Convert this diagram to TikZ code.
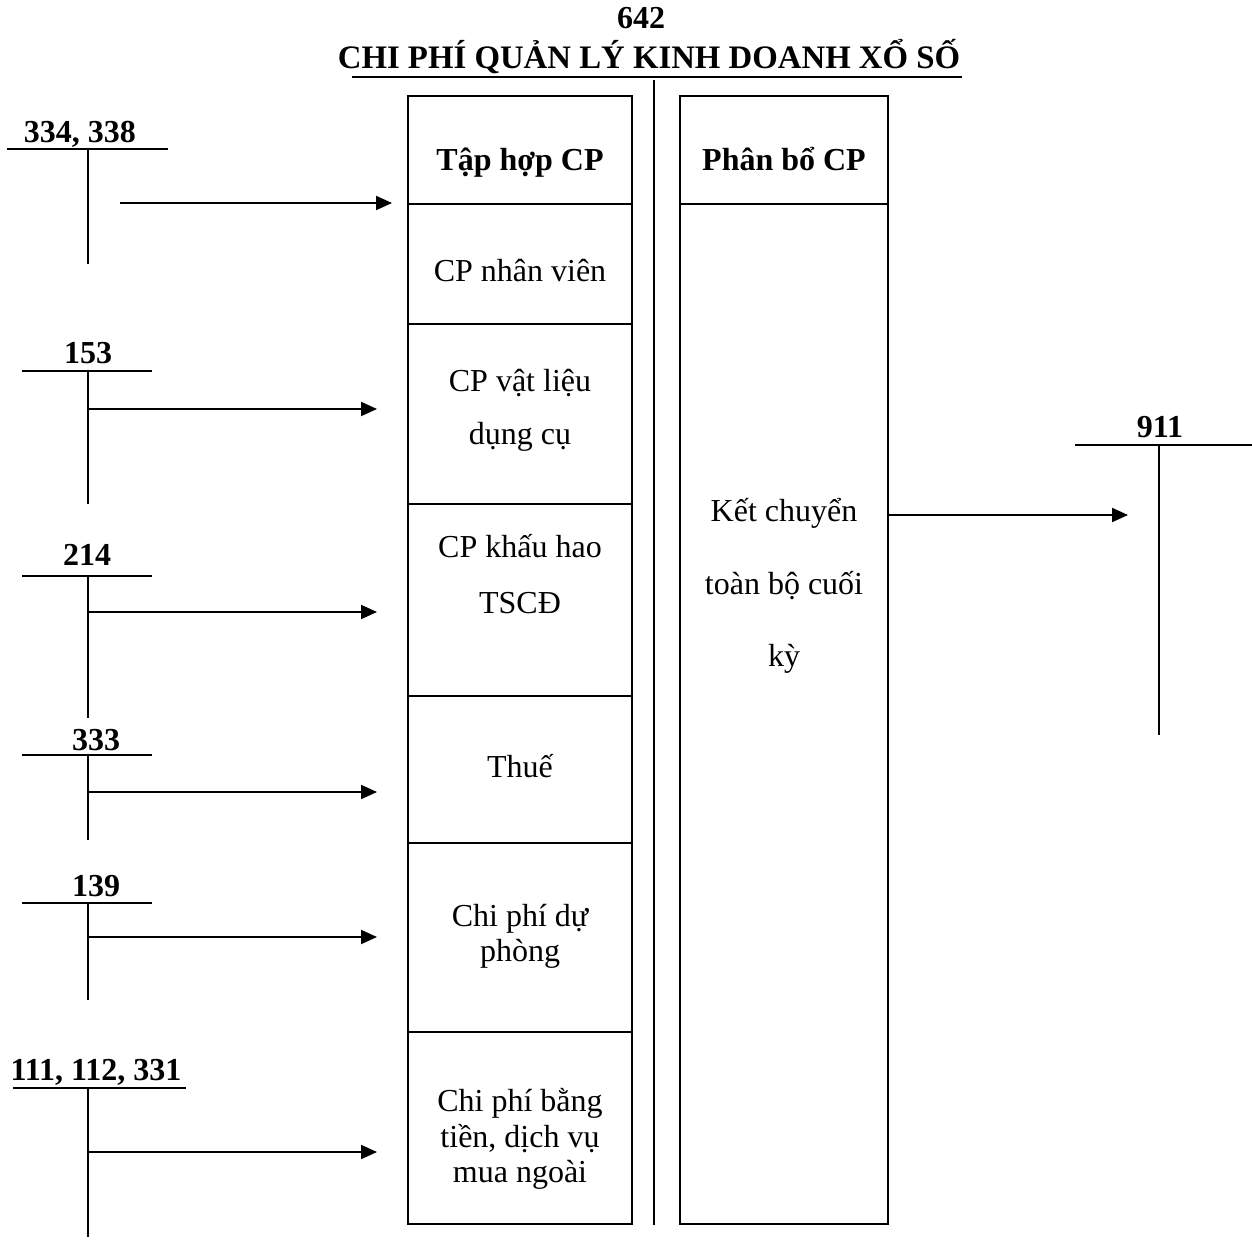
\documentclass[tikz,border=0pt]{standalone}
\usepackage{fontspec}
\setmainfont{Liberation Serif}
\usetikzlibrary{arrows.meta}
\begin{document}
\begin{tikzpicture}[x=0.5pt,y=-0.5pt,
  every node/.style={inner sep=0pt, outer sep=0pt},
  lbl/.style={anchor=base, font=\fontsize{16}{19}\selectfont\bfseries},
  ttl/.style={anchor=base, font=\fontsize{16.4}{19}\selectfont\bfseries},
  txt/.style={anchor=base, font=\fontsize{16}{19}\selectfont},
  cellL/.style={draw, line width=1pt, minimum width=112pt},
  cellR/.style={draw, line width=1pt, minimum width=104pt},
  ln/.style={line width=1pt},
  arr/.style={line width=1pt, -{Triangle[length=8pt,width=7pt]}}
]
\useasboundingbox (0,0) rectangle (1252,1245);

% title
\node[lbl] (num) at (641,29) {642};
\node[ttl] (title) at (649,69) {CHI PHÍ QUẢN LÝ KINH DOANH XỔ SỐ};
\coordinate (ulL) at (352,77);
\coordinate (ulR) at (962,77);
\draw[ln] (ulL) -- (ulR);
\coordinate (midT) at (654,80);
\coordinate (midB) at (654,1225);
\draw[ln] (midT) -- (midB);

% left column cells
\node[cellL, minimum height=54pt]   (c1) at (520,150) {};
\node[cellL, minimum height=60pt]   (c2) at (520,264) {};
\node[cellL, minimum height=90pt]   (c3) at (520,414) {};
\node[cellL, minimum height=96pt]   (c4) at (520,600) {};
\node[cellL, minimum height=73.5pt] (c5) at (520,769.5) {};
\node[cellL, minimum height=94.5pt] (c6) at (520,937.5) {};
\node[cellL, minimum height=96pt]   (c7) at (520,1128) {};

% right column cells
\node[cellR, minimum height=54pt]  (r1) at (784,150) {};
\node[cellR, minimum height=510pt] (r2) at (784,714) {};

% cell texts
\node[lbl] (h1) at (520,171) {Tập hợp CP};
\node[lbl] (h2) at (784,171) {Phân bổ CP};
\node[txt] (t2) at (520,282) {CP nhân viên};
\node[txt] (t3a) at (520,392) {CP vật liệu};
\node[txt] (t3b) at (520,445) {dụng cụ};
\node[txt] (t4a) at (520,558) {CP khấu hao};
\node[txt] (t4b) at (520,613) {TSCĐ};
\node[txt] (t5) at (520,777) {Thuế};
\node[txt] (t6a) at (520,926) {Chi phí dự};
\node[txt] (t6b) at (520,961) {phòng};
\node[txt] (t7a) at (520,1111) {Chi phí bằng};
\node[txt] (t7b) at (520,1147) {tiền, dịch vụ};
\node[txt] (t7c) at (520,1182) {mua ngoài};
\node[txt] (k1) at (784,522) {Kết chuyển};
\node[txt] (k2) at (784,594) {toàn bộ cuối};
\node[txt] (k3) at (784,666) {kỳ};

% T-accounts (left)
\node[lbl] (a1) at (80,143) {334, 338};
\draw[ln] (7,149) -- (168,149);
\draw[ln] (88,149) -- (88,264);
\node[lbl] (a2) at (88,364) {153};
\draw[ln] (22,371) -- (152,371);
\draw[ln] (88,371) -- (88,504);
\node[lbl] (a3) at (87,566) {214};
\draw[ln] (22,576) -- (152,576);
\draw[ln] (88,576) -- (88,718);
\node[lbl] (a4) at (96,750) {333};
\draw[ln] (22,755) -- (152,755);
\draw[ln] (88,755) -- (88,840);
\node[lbl] (a5) at (96,896) {139};
\draw[ln] (22,903) -- (152,903);
\draw[ln] (88,903) -- (88,1000);
\node[lbl] (a6) at (96,1080) {111, 112, 331};
\draw[ln] (13,1088) -- (186,1088);
\draw[ln] (88,1088) -- (88,1237);

% T-account 911
\node[lbl] (a911) at (1160,438) {911};
\draw[ln] (1075,445) -- (1252,445);
\draw[ln] (1159,445) -- (1159,735);

% arrows
\coordinate (s1) at (120,203);  \coordinate (e1) at (392,203);
\coordinate (s2) at (88,409);   \coordinate (e2) at (377,409);
\coordinate (s3) at (88,612);   \coordinate (e3) at (377,612);
\coordinate (s4) at (88,792);   \coordinate (e4) at (377,792);
\coordinate (s5) at (88,937);   \coordinate (e5) at (377,937);
\coordinate (s6) at (88,1152);  \coordinate (e6) at (377,1152);
\coordinate (s7) at (r2.east |- 0,515); \coordinate (e7) at (1128,515);
\draw[arr] (s1) -- (e1);
\draw[arr] (s2) -- (e2);
\draw[arr] (s3) -- (e3);
\draw[arr] (s4) -- (e4);
\draw[arr] (s5) -- (e5);
\draw[arr] (s6) -- (e6);
\draw[arr] (s7) -- (e7);
\end{tikzpicture}
\end{document}
